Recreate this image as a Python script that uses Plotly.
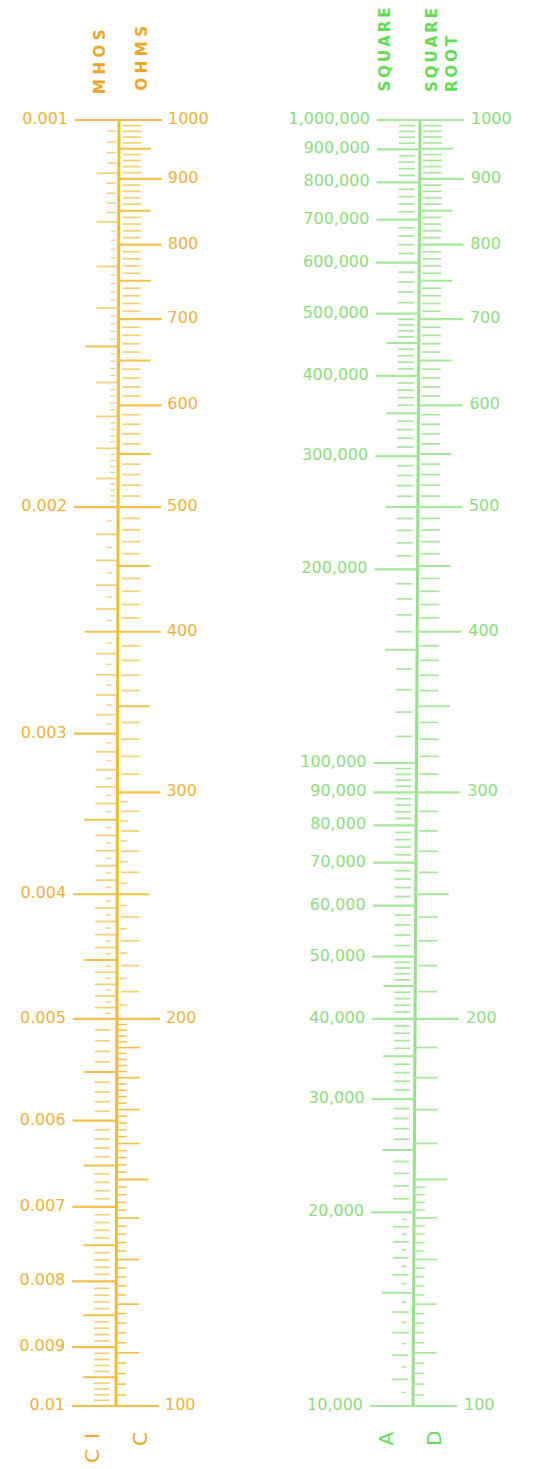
import math
import plotly.graph_objects as go

# ---------------- data ----------------
OHMS_LABELS = [100, 200, 300, 400, 500, 600, 700, 800, 900, 1000]
MHOS_LABELS = ["0.001", "0.002", "0.003", "0.004", "0.005",
               "0.006", "0.007", "0.008", "0.009", "0.01"]
SQUARE_LABELS = [10000, 20000, 30000, 40000, 50000, 60000, 70000, 80000, 90000,
                 100000, 200000, 300000, 400000, 500000, 600000, 700000, 800000,
                 900000, 1000000]
ROOT_LABELS = [100, 200, 300, 400, 500, 600, 700, 800, 900, 1000]

# graduations (start, stop, step) as printed on each scale
OHMS_HALF = [150, 250, 350, 450, 550, 650, 750, 850, 950]
OHMS_TENS_LOW = (100, 200, 10)
OHMS_TWOS_LOW = (100, 200, 2)
OHMS_FIVES = (200, 300, 5)
OHMS_TENS_HIGH = (200, 1000, 10)

# mhos graduations in units of 0.00001 mho
MHOS_HALF = [150, 250, 350, 450, 550, 650, 750, 850, 950]
MHOS_TENTHS = (100, 1000, 10)
MHOS_TWOS = (100, 200, 2)
MHOS_FIVES = (200, 500, 5)
MHOS_UNIT = 1e-5

SQUARE_HALF = [15000, 25000, 35000, 45000, 150000, 250000, 350000, 450000]
SQUARE_MINOR = [(10000, 50000, 1000), (50000, 100000, 2000),
                (100000, 500000, 10000), (500000, 1000000, 20000)]
SQUARE_TINY = (10000, 20000, 500)

ROOT_HALF = [150, 250, 350, 450, 550, 650, 750, 850, 950]
ROOT_TENS = (100, 1000, 10)
ROOT_TWOS = (100, 150, 2)

# ---------------- styling ----------------
PAGE_OFF = 8                  # browser body margin
LEFT_SPINE = (116.0, 3.0)     # x at bottom, drift to top (scan tilt)
RIGHT_SPINE = (413.0, 7.0)
ORANGE_TICK = "#F3BF48"
ORANGE_FAINT = "#F5CF70"
ORANGE_SPINE = "#EDBD2C"
ORANGE_TEXT = "#EDB13C"
ORANGE_TITLE = "#F0A526"
GREEN_TICK = "#A6E89A"
GREEN_SPINE = "#96E08A"
GREEN_TEXT = "#8CDC7E"
GREEN_TITLE = "#62DC55"
FONT = "DejaVu Sans"
LABEL_SIZE = 16

LOG_TOP = 3 + (120 - PAGE_OFF) / 1286
LOG_BOTTOM = LOG_TOP - 1469 / 1286


def grad(spec, exclude=()):
    start, stop, step = spec
    ex = set(exclude)
    return [v for v in range(start, stop + 1, step) if v not in ex]


def frac_ohms(v):
    return math.log10(v) - 2


def frac_mhos(m):
    return -math.log10(m) - 2


def frac_square(a):
    return math.log10(a) / 2 - 2


def spine_x(spine, f):
    return spine[0] + spine[1] * f


fig = go.Figure()


def add_ticks(values, yref, frac, spine, dx0, dx1, color, width):
    xs, ys = [], []
    for v in values:
        sx = spine_x(spine, frac(v))
        xs += [sx + dx0, sx + dx1, None]
        ys += [v, v, None]
    fig.add_trace(go.Scatter(x=xs, y=ys, yaxis=yref, mode="lines",
                             line=dict(color=color, width=width),
                             hoverinfo="skip", showlegend=False))


def add_labels(values, texts, yref, frac, spine, dx, pos, color):
    xs = [spine_x(spine, frac(v)) + dx for v in values]
    fig.add_trace(go.Scatter(x=xs, y=values, yaxis=yref, mode="text",
                             text=texts, textposition=pos,
                             textfont=dict(family=FONT, size=LABEL_SIZE, color=color),
                             hoverinfo="skip", showlegend=False))


# ---------- left block: CI (mhos) and C (ohms) ----------
fig.add_trace(go.Scatter(x=[spine_x(LEFT_SPINE, 0), spine_x(LEFT_SPINE, 1)],
                         y=[100, 1000], mode="lines",
                         line=dict(color=ORANGE_SPINE, width=3),
                         hoverinfo="skip", showlegend=False))

# ohms (right of spine)
add_ticks(OHMS_LABELS, "y", frac_ohms, LEFT_SPINE, 0, 43, ORANGE_TICK, 2.2)
add_ticks(OHMS_HALF, "y", frac_ohms, LEFT_SPINE, 0, 32, ORANGE_TICK, 2)
add_ticks(grad(OHMS_TENS_LOW, OHMS_LABELS + OHMS_HALF), "y", frac_ohms, LEFT_SPINE, 0, 23, ORANGE_TICK, 1.7)
add_ticks(grad(OHMS_TWOS_LOW, range(100, 201, 10)), "y", frac_ohms, LEFT_SPINE, 0, 10, ORANGE_TICK, 1.5)
add_ticks(grad(OHMS_FIVES, range(200, 301, 10)), "y", frac_ohms, LEFT_SPINE, 3, 10, ORANGE_FAINT, 1.5)
add_ticks(grad(OHMS_TENS_HIGH, range(200, 1001, 50)), "y", frac_ohms, LEFT_SPINE, 4, 22, ORANGE_FAINT, 1.7)
add_labels(OHMS_LABELS, [str(v) for v in OHMS_LABELS], "y", frac_ohms, LEFT_SPINE,
           49, "middle right", ORANGE_TEXT)

# mhos (left of spine)
mhos_major = [float(t) for t in MHOS_LABELS]
mhos_half = [u * MHOS_UNIT for u in MHOS_HALF]
major_units = list(range(100, 1001, 100))
tenths = grad(MHOS_TENTHS, major_units + MHOS_HALF)
twos = grad(MHOS_TWOS, range(100, 201, 10))
add_ticks(mhos_major, "y2", frac_mhos, LEFT_SPINE, -44, 0, ORANGE_TICK, 2.2)
add_ticks(mhos_half, "y2", frac_mhos, LEFT_SPINE, -33, 0, ORANGE_TICK, 2)
add_ticks([u * MHOS_UNIT for u in tenths if u < 500], "y2", frac_mhos, LEFT_SPINE, -22, -1, ORANGE_FAINT, 1.7)
add_ticks([u * MHOS_UNIT for u in tenths if u >= 500], "y2", frac_mhos, LEFT_SPINE, -22, -7, ORANGE_FAINT, 1.7)
add_ticks([u * MHOS_UNIT for u in twos if u < 120], "y2", frac_mhos, LEFT_SPINE, -12, -3, ORANGE_FAINT, 1.5)
add_ticks([u * MHOS_UNIT for u in twos if u > 120], "y2", frac_mhos, LEFT_SPINE, -8, -3, ORANGE_FAINT, 1.3)
add_ticks([u * MHOS_UNIT for u in grad(MHOS_FIVES, range(200, 501, 10))], "y2", frac_mhos, LEFT_SPINE, -11, -6, ORANGE_FAINT, 1.4)
add_labels(mhos_major, MHOS_LABELS, "y2", frac_mhos, LEFT_SPINE, -51, "middle left", ORANGE_TEXT)

# ---------- right block: A (square) and D (square root) ----------
fig.add_trace(go.Scatter(x=[spine_x(RIGHT_SPINE, 0), spine_x(RIGHT_SPINE, 1)],
                         y=[100, 1000], mode="lines",
                         line=dict(color=GREEN_SPINE, width=3),
                         hoverinfo="skip", showlegend=False))

add_ticks(ROOT_LABELS, "y", frac_ohms, RIGHT_SPINE, 0, 44, GREEN_TICK, 2.2)
add_ticks(ROOT_HALF, "y", frac_ohms, RIGHT_SPINE, 0, 33, GREEN_TICK, 2)
root_tens = grad(ROOT_TENS, list(range(100, 1001, 50)))
add_ticks([v for v in root_tens if v < 200], "y", frac_ohms, RIGHT_SPINE, 0, 23, GREEN_TICK, 1.7)
add_ticks([v for v in root_tens if v > 200], "y", frac_ohms, RIGHT_SPINE, 3, 22, GREEN_TICK, 1.7)
add_ticks(grad(ROOT_TWOS, range(100, 151, 10)), "y", frac_ohms, RIGHT_SPINE, 0, 11, GREEN_TICK, 1.5)
add_labels(ROOT_LABELS, [str(v) for v in ROOT_LABELS], "y", frac_ohms, RIGHT_SPINE,
           51, "middle right", GREEN_TEXT)

sq_minor = []
for seg in SQUARE_MINOR:
    sq_minor += grad(seg, SQUARE_LABELS + SQUARE_HALF)
sq_minor = sorted(set(sq_minor))
add_ticks(SQUARE_LABELS, "y3", frac_square, RIGHT_SPINE, -43, 0, GREEN_TICK, 2.2)
add_ticks(SQUARE_HALF, "y3", frac_square, RIGHT_SPINE, -32, 0, GREEN_TICK, 2)
add_ticks(sq_minor, "y3", frac_square, RIGHT_SPINE, -21, -5, GREEN_TICK, 1.7)
add_ticks(grad(SQUARE_TINY, range(10000, 20001, 1000)), "y3", frac_square, RIGHT_SPINE, -12, -7, GREEN_TICK, 1.4)
add_labels(SQUARE_LABELS, [f"{v:,}" for v in SQUARE_LABELS], "y3", frac_square, RIGHT_SPINE,
           -50, "middle left", GREEN_TEXT)

# ---------- titles (rotated) ----------
def spaced(word, gap):
    return gap.join(word)


THIN = "\u2009"
WIDE = "\u2009\u200a"
H = 1469.0
titles = [
    (spaced("MHOS", WIDE), 99.5, 95, ORANGE_TITLE, 15, True),
    (spaced("OHMS", WIDE), 141, 92, ORANGE_TITLE, 15, True),
    (spaced("SQUARE", THIN), 384.5, 93, GREEN_TITLE, 15, True),
    (spaced("SQUARE", THIN) + "<br>" + spaced("ROOT", THIN), 442, 93, GREEN_TITLE, 15, True),
    ("C\u2002I", 92, 1464, ORANGE_TITLE, 20, False),
    ("C", 140, 1447, ORANGE_TITLE, 20, False),
    ("A", 385.5, 1447, GREEN_TITLE, 20, False),
    ("D", 433.5, 1447, GREEN_TITLE, 20, False),
]
for text, x, y, col, size, bold in titles:
    fig.add_annotation(text=f"<b>{text}</b>" if bold else text,
                       x=x, xref="x", y=1 - (y - PAGE_OFF) / H, yref="paper",
                       xanchor="center", yanchor="bottom", textangle=-90,
                       align="left", showarrow=False, borderpad=0,
                       font=dict(family=FONT, size=size, color=col))

axis_common = dict(visible=False, showgrid=False, zeroline=False, fixedrange=True)
fig.update_layout(
    width=540, height=1469,
    margin=dict(l=0, r=0, t=0, b=0),
    paper_bgcolor="white", plot_bgcolor="white",
    showlegend=False,
    xaxis=dict(range=[PAGE_OFF, 540 + PAGE_OFF], **axis_common),
    yaxis=dict(type="log", range=[LOG_BOTTOM, LOG_TOP], **axis_common),
    yaxis2=dict(type="log", range=[-LOG_BOTTOM, -LOG_TOP], overlaying="y", **axis_common),
    yaxis3=dict(type="log", range=[2 * LOG_BOTTOM, 2 * LOG_TOP], overlaying="y", **axis_common),
)

fig.write_html("out.html")
